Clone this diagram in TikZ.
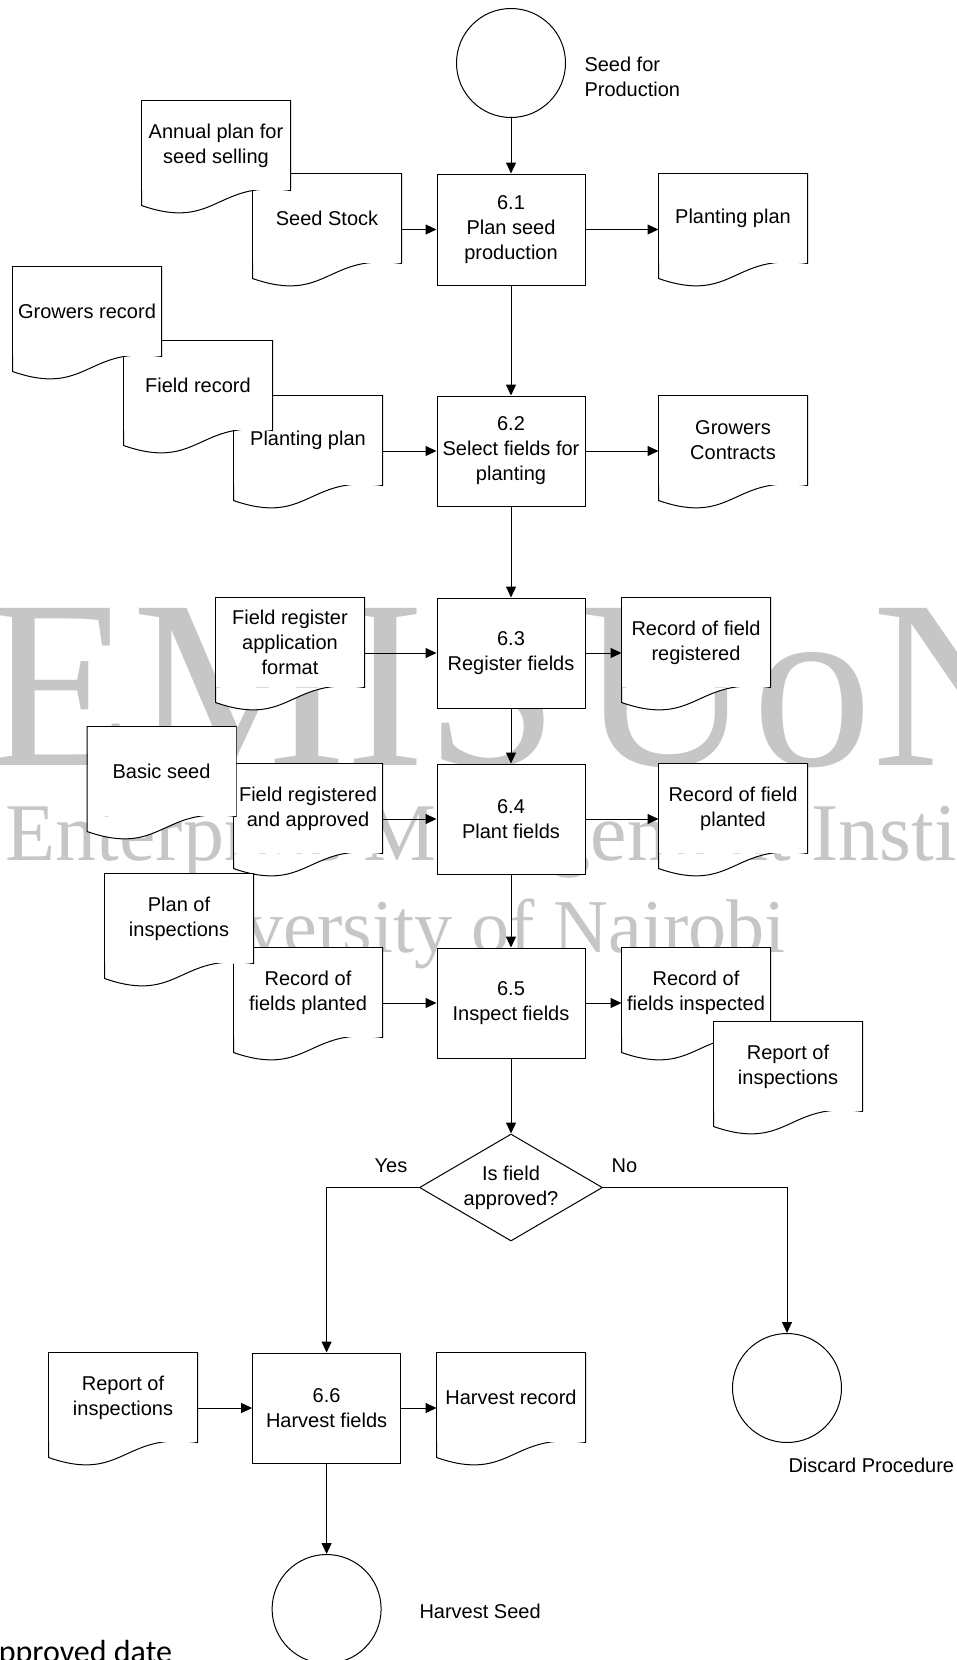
\documentclass[tikz,border=0pt]{standalone}
\usepackage{fontspec}
\setmainfont{Liberation Sans}
\newfontfamily\wmfont{Liberation Serif}
\newfontfamily\pagefont{Carlito}
\usetikzlibrary{shapes.geometric}
\usetikzlibrary{arrows.meta}
\usetikzlibrary{calc}

\newcommand{\diagfont}{\fontsize{20}{25}\selectfont}

\tikzset{
  procbox/.style={rectangle, draw, fill=white, minimum width=148, minimum height=110,
    inner sep=0pt, align=center, font=\diagfont},
  termcirc/.style={circle, draw, fill=white, minimum size=109, inner sep=0pt},
  decide/.style={diamond, draw, fill=white, aspect=1.7, minimum width=183,
    minimum height=107, inner sep=0pt, align=center, font=\diagfont},
  plain/.style={inner sep=0pt, font=\diagfont},
  wmark/.style={inner sep=0pt, anchor=base west, text=gray!45},
  docu/.style={rectangle, fill=white, minimum width=148, minimum height=89,
    inner sep=0pt, align=center, font=\diagfont,
    append after command={\pgfextra{
      \fill[white] (\tikzlastnode.south east)
        .. controls ([yshift=11pt]\tikzlastnode.south) and ([yshift=-41pt]\tikzlastnode.south)
        .. ([yshift=-15pt]\tikzlastnode.south west) -- (\tikzlastnode.south west) -- cycle;
      \draw (\tikzlastnode.south east)
        .. controls ([yshift=11pt]\tikzlastnode.south) and ([yshift=-41pt]\tikzlastnode.south)
        .. ([yshift=-15pt]\tikzlastnode.south west) -- (\tikzlastnode.north west)
        -- (\tikzlastnode.north east) -- cycle;
    }}},
}

\begin{document}
\begin{tikzpicture}[x=1pt, y=-1pt, line width=1pt, >={Triangle[length=11pt,width=10pt]}]
  \useasboundingbox (0,0) rectangle (956,1660);

  % watermark behind everything
  \node[wmark, font=\wmfont\fontsize{240}{240}\selectfont] (wmA) at (-15,765) {EMIS};
  \node[wmark, font=\wmfont\fontsize{240}{240}\selectfont] (wmB) at (579,765) {UoN};
  \node[wmark, font=\wmfont\fontsize{82}{82}\selectfont] (wmC) at (5,860) {Enterprise Management Institute};
  \node[wmark, font=\wmfont\fontsize{76}{76}\selectfont] (wmD) at (131,952) {University of Nairobi};
  \node[inner sep=0pt, anchor=base west, font=\pagefont\fontsize{32}{32}\selectfont] (pagetxt) at (-17,1662) {approved date};

  % start
  \node[termcirc] (seedprod) at (511,63) {};
  \node[plain, anchor=west, align=left] (seedprodlbl) at (584,77) {Seed for\\Production};

  % 6.1
  \node[docu] (stock) at (327,218.5) {Seed Stock};
  \node[docu] (annual) at (216,145.5) {Annual plan for\\seed selling};
  \node[procbox, minimum height=111] (p61) at (511,229.5) {6.1\\Plan seed\\production};
  \node[docu] (plantplan) at (733,218.5) {Planting plan};

  % 6.2
  \node[docu] (plantplanin) at (308,440.5) {Planting plan};
  \node[docu] (fieldrec) at (198,385.5) {Field record};
  \node[docu] (growrec) at (87,311.5) {Growers record};
  \node[procbox] (p62) at (511,451) {6.2\\Select fields for\\planting};
  \node[docu] (contracts) at (733,440.5) {Growers\\Contracts};

  % 6.3
  \node[docu] (regform) at (290,642.5) {Field register\\application\\format};
  \node[procbox] (p63) at (511,653) {6.3\\Register fields};
  \node[docu] (regrec) at (696,642.5) {Record of field\\registered};

  % 6.4
  \node[docu] (approved) at (308,808.5) {Field registered\\and approved};
  \node[docu] (basic) at (161.5,771.5) {Basic seed};
  \node[procbox] (p64) at (511,819) {6.4\\Plant fields};
  \node[docu] (plantrec) at (733,808.5) {Record of field\\planted};

  % 6.5
  \node[docu] (plantedrec) at (308,992.5) {Record of\\fields planted};
  \node[docu] (inspplan) at (179,918.5) {Plan of\\inspections};
  \node[procbox] (p65) at (511,1003) {6.5\\Inspect fields};
  \node[docu] (insprec) at (696,992.5) {Record of\\fields inspected};
  \node[docu] (insprep) at (788,1066.5) {Report of\\inspections};

  % decision
  \node[decide] (isok) at (511,1187.5) {Is field\\approved?};
  \node[plain] (yes) at (391,1166) {Yes};
  \node[plain] (no) at (624.5,1166) {No};

  % 6.6
  \node[docu] (insprepin) at (123,1397.5) {Report of\\inspections};
  \node[procbox] (p66) at (326.6,1408) {6.6\\Harvest fields};
  \node[docu] (harvrec) at (511,1397.5) {Harvest record};

  % ends
  \node[termcirc] (discard) at (787,1388) {};
  \node[plain, anchor=west] (discardlbl) at (788,1465) {Discard Procedure};
  \node[termcirc] (harvseed) at (326.6,1609) {};
  \node[plain, anchor=west] (harvseedlbl) at (419,1611) {Harvest Seed};

  % main flow
  \draw[->] (seedprod) -- (p61);
  \draw[->] (p61) -- (p62);
  \draw[->] (p62) -- (p63);
  \draw[->] (p63) -- (p64);
  \draw[->] (p64) -- (p65);
  \draw[->] (p65) -- (isok);
  \draw[->] (isok.west) -| (p66.north);
  \draw[->] (isok.east) -| (discard.north);
  \draw[->] (p66) -- (harvseed);

  % inputs and outputs
  \draw[->] (stock.east |- p61.west) -- (p61.west);
  \draw[->] (p61.east) -- (p61.east -| plantplan.west);
  \draw[->] (plantplanin.east |- p62.west) -- (p62.west);
  \draw[->] (p62.east) -- (p62.east -| contracts.west);
  \draw[->] (regform.east |- p63.west) -- (p63.west);
  \draw[->] (p63.east) -- (p63.east -| regrec.west);
  \draw[->] (approved.east |- p64.west) -- (p64.west);
  \draw[->] (p64.east) -- (p64.east -| plantrec.west);
  \draw[->] (plantedrec.east |- p65.west) -- (p65.west);
  \draw[->] (p65.east) -- (p65.east -| insprec.west);
  \draw[->] (insprepin.east |- p66.west) -- (p66.west);
  \draw[->] (p66.east) -- (p66.east -| harvrec.west);
\end{tikzpicture}
\end{document}
